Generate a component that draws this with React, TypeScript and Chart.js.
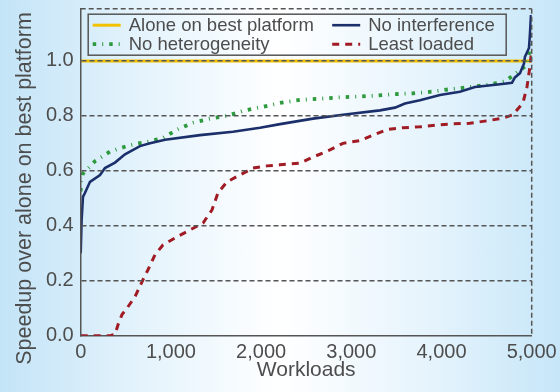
import React, { useEffect, useRef } from 'react';
import { Chart, registerables } from 'chart.js';

Chart.register(...registerables);

// Axis ranges and ticks
const X_MAX = 5000;
const Y_MAX = 1.19;
const xTickStep = 1000;
const yTickStep = 0.2;
const yTitle = 'Speedup over alone on best platform';

// Reference line: running alone on the best platform
const aloneX = [0, 5000];
const aloneY = [1.0, 1.0];

// No interference (sorted per-workload speedup)
const noInterfX = [0, 10, 25, 48, 103, 214, 269, 380, 491, 657, 768, 935, 1323, 1688, 1988, 2210, 2575, 2952, 3318, 3484, 3595, 3761, 3983, 4204, 4371, 4648, 4781, 4814, 4870, 4914, 4925, 4970, 4981, 4992];
const noInterfY = [0.30, 0.42, 0.505, 0.52, 0.56, 0.585, 0.61, 0.63, 0.66, 0.69, 0.70, 0.713, 0.73, 0.742, 0.757, 0.77, 0.79, 0.806, 0.82, 0.83, 0.845, 0.857, 0.876, 0.888, 0.905, 0.915, 0.92, 0.94, 0.955, 0.99, 1.015, 1.047, 1.10, 1.167];

// No heterogeneity
const noHeteroX = [0, 3, 25, 70, 158, 325, 513, 635, 735, 912, 1068, 1245, 1433, 1622, 1821, 2021, 2210, 2431, 2631, 2852, 3063, 3285, 3484, 3684, 3895, 4094, 4294, 4504, 4704, 4848, 4948, 4992];
const noHeteroY = [0.525, 0.56, 0.59, 0.605, 0.635, 0.67, 0.69, 0.70, 0.705, 0.72, 0.75, 0.775, 0.79, 0.80, 0.82, 0.833, 0.847, 0.858, 0.862, 0.867, 0.87, 0.874, 0.879, 0.882, 0.888, 0.897, 0.904, 0.913, 0.925, 0.961, 0.985, 1.07];

// Least loaded
const leastLoadedX = [0, 326, 380, 414, 458, 513, 602, 691, 746, 824, 912, 1068, 1212, 1356, 1456, 1522, 1622, 1766, 1910, 2066, 2210, 2431, 2575, 2763, 2907, 3096, 3240, 3395, 3573, 3761, 3950, 4127, 4315, 4504, 4681, 4792, 4903, 4948, 4981, 5000];
const leastLoadedY = [0, 0, 0.005, 0.04, 0.077, 0.10, 0.142, 0.204, 0.24, 0.295, 0.33, 0.36, 0.385, 0.41, 0.458, 0.52, 0.56, 0.585, 0.61, 0.618, 0.622, 0.628, 0.65, 0.676, 0.70, 0.71, 0.73, 0.75, 0.757, 0.76, 0.767, 0.771, 0.773, 0.782, 0.792, 0.804, 0.847, 0.906, 0.98, 1.04];

const pts = (xs: number[], ys: number[]) => xs.map((x, i) => ({ x, y: ys[i] }));

const TEXT = '#4d4d4d';
const RULE = '#555555';
const FONT = "'Liberation Sans', Arial, Helvetica, sans-serif";

// Dashed top and right edges of the plotting area
const framePlugin = {
  id: 'frameEdges',
  afterDatasetsDraw(chart: any) {
    const { ctx, chartArea: a } = chart;
    ctx.save();
    ctx.strokeStyle = RULE;
    ctx.lineWidth = 1.5;
    ctx.setLineDash([5, 3]);
    ctx.beginPath();
    ctx.moveTo(a.left, a.top);
    ctx.lineTo(a.right, a.top);
    ctx.moveTo(a.right, a.top);
    ctx.lineTo(a.right, a.bottom);
    ctx.stroke();
    ctx.restore();
  },
};

// Rotated y-axis title, centred on the canvas height
const yTitlePlugin = {
  id: 'yTitle',
  afterDraw(chart: any) {
    const { ctx } = chart;
    ctx.save();
    ctx.translate(25, chart.height / 2 - 7.5);
    ctx.rotate(-Math.PI / 2);
    ctx.font = `21.5px ${FONT}`;
    ctx.fillStyle = TEXT;
    ctx.textAlign = 'center';
    ctx.textBaseline = 'middle';
    ctx.fillText(yTitle, 0, 0);
    ctx.restore();
  },
};

// Boxed two-column legend inside the plotting area
const boxLegendPlugin = {
  id: 'boxLegend',
  afterDraw(chart: any) {
    const { ctx, chartArea: a } = chart;
    const left = a.left + 7.5;
    const top = a.top + 5.5;
    const w = 418;
    const h = 41;
    ctx.save();
    ctx.strokeStyle = RULE;
    ctx.lineWidth = 1.5;
    ctx.setLineDash([]);
    ctx.strokeRect(left, top, w, h);
    const cols = [left + 4.5, left + 244];
    const rows = [top + 11, top + 30];
    const order = ['Alone on best platform', 'No heterogeneity', 'No interference', 'Least loaded'];
    ctx.font = `18.5px ${FONT}`;
    ctx.textBaseline = 'middle';
    ctx.textAlign = 'left';
    order.forEach((label, k) => {
      const ds = chart.data.datasets.find((d: any) => d.label === label);
      if (!ds) return;
      const cx = cols[Math.floor(k / 2)];
      const cy = rows[k % 2];
      ctx.strokeStyle = ds.borderColor;
      ctx.lineWidth = ds.borderWidth;
      ctx.setLineDash(ds.borderDash || []);
      ctx.beginPath();
      ctx.moveTo(cx, cy);
      ctx.lineTo(cx + 28, cy);
      ctx.stroke();
      ctx.setLineDash([]);
      ctx.fillStyle = TEXT;
      ctx.fillText(label, cx + 36, cy + 1);
    });
    ctx.restore();
  },
};

export default function App() {
  const canvasRef = useRef<HTMLCanvasElement | null>(null);

  useEffect(() => {
    const canvas = canvasRef.current;
    if (!canvas) return;
    const chart = new Chart(canvas, {
      type: 'line',
      data: {
        datasets: [
          {
            label: 'No interference',
            data: pts(noInterfX, noInterfY),
            borderColor: '#1b2f6b',
            borderWidth: 2.6,
            pointRadius: 0,
            tension: 0,
            order: 0,
          },
          {
            label: 'No heterogeneity',
            data: pts(noHeteroX, noHeteroY),
            borderColor: '#2e9a3e',
            borderWidth: 3.8,
            borderDash: [3.5, 6, 1, 6],
            pointRadius: 0,
            tension: 0,
            order: 1,
          },
          {
            label: 'Least loaded',
            data: pts(leastLoadedX, leastLoadedY),
            borderColor: '#a11b24',
            borderWidth: 3,
            borderDash: [7, 6],
            pointRadius: 0,
            tension: 0,
            order: 2,
          },
          {
            label: 'Alone on best platform',
            data: pts(aloneX, aloneY),
            borderColor: '#f2c100',
            borderWidth: 3,
            pointRadius: 0,
            tension: 0,
            order: 3,
          },
        ],
      },
      options: {
        responsive: false,
        animation: false,
        layout: { padding: { top: 8.7, right: 28.3, left: 0, bottom: 0 } },
        plugins: {
          legend: { display: false },
          tooltip: { enabled: false },
        },
        scales: {
          x: {
            type: 'linear',
            min: 0,
            max: X_MAX,
            afterFit: (s: any) => {
              s.height = 56.3;
              s.paddingLeft = 0;
              s.paddingRight = 0;
            },
            ticks: {
              stepSize: xTickStep,
              color: TEXT,
              font: { family: FONT, size: 20 },
              padding: 5,
              maxRotation: 0,
              callback: (v: any) => Number(v).toLocaleString('en-US'),
            },
            grid: { display: false, drawTicks: false },
            border: { display: true, color: RULE, width: 1.5 },
            title: {
              display: true,
              text: 'Workloads',
              color: TEXT,
              font: { family: FONT, size: 21 },
              padding: { top: 0, bottom: 9 },
            },
          },
          y: {
            type: 'linear',
            min: 0,
            max: Y_MAX,
            afterFit: (s: any) => {
              s.width = 80.7;
              s.paddingTop = 0;
              s.paddingBottom = 0;
            },
            ticks: {
              stepSize: yTickStep,
              includeBounds: false,
              color: TEXT,
              font: { family: FONT, size: 20 },
              padding: 7,
              callback: (v: any) => Number(v).toFixed(1),
            },
            grid: {
              z: 1,
              drawTicks: false,
              lineWidth: 1.5,
              color: (c: any) => (c.tick && c.tick.value === 0 ? 'rgba(0,0,0,0)' : RULE),
            },
            border: { display: true, color: RULE, width: 1.5, dash: [5, 3], z: 1 },
            title: { display: false },
          },
        },
      },
      plugins: [framePlugin, boxLegendPlugin, yTitlePlugin],
    });
    return () => chart.destroy();
  }, []);

  return (
    <div
      style={{
        position: 'fixed',
        left: 0,
        top: 0,
        width: 560,
        height: 392,
        background: 'linear-gradient(to right, #c3e4f7 0%, #e4f3fc 25%, #ffffff 50%, #e4f3fc 78%, #c6e6f8 100%)',
      }}
    >
      <canvas ref={canvasRef} width={560} height={392} style={{ display: 'block' }} />
    </div>
  );
}
